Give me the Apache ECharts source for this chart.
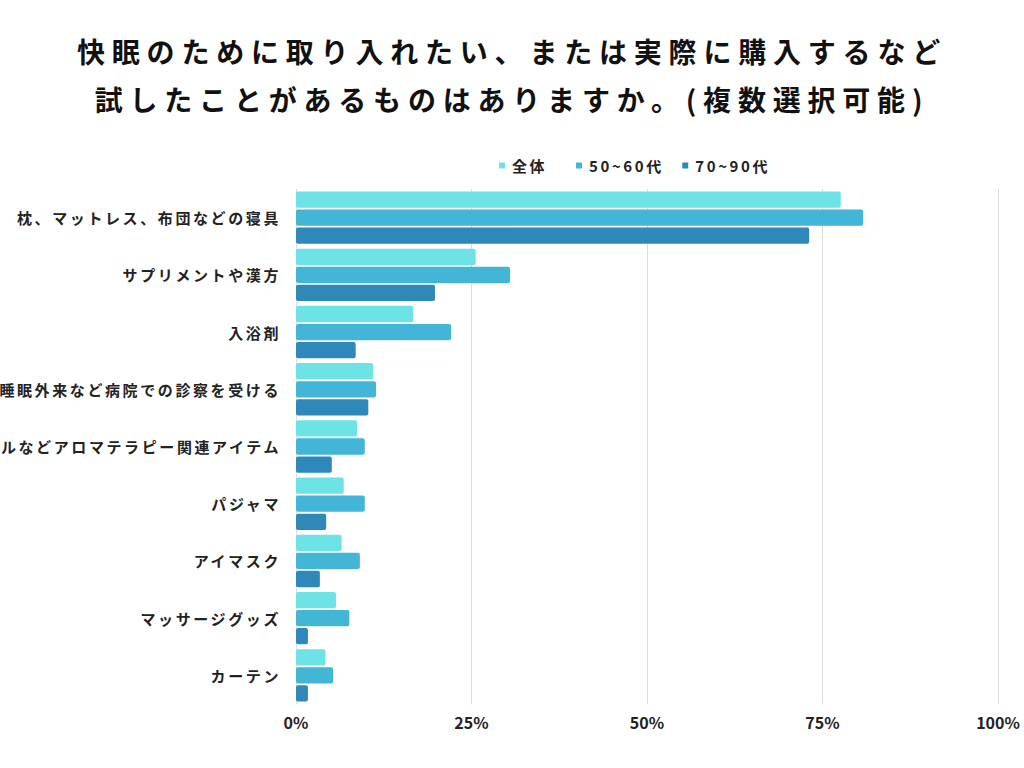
<!DOCTYPE html>
<html lang="ja">
<head>
<meta charset="utf-8">
<title>快眠のために取り入れたいもの</title>
<script src="https://cdn.jsdelivr.net/npm/echarts@6/dist/echarts.min.js"></script>
<style>
  html, body { margin: 0; padding: 0; background: #fff; }
  #chart { width: 1024px; height: 768px; }
  /* 文字間隔（SVGレンダラーのtextに適用） */
  #chart text[style*="28px"] { letter-spacing: 6.8px; }
  #chart text[style*="15px"] { letter-spacing: 2.6px; }
</style>
</head>
<body>
<div id="chart"></div>
<script>
// データ
const titleLines = [
  '快眠のために取り入れたい、または実際に購入するなど',
  '試したことがあるものはありますか。(複数選択可能)'
];
const categories = [
  '枕、マットレス、布団などの寝具',
  'サプリメントや漢方',
  '入浴剤',
  '睡眠外来など病院での診察を受ける',
  'アロマオイルなどアロマテラピー関連アイテム',
  'パジャマ',
  'アイマスク',
  'マッサージグッズ',
  'カーテン'
];
const seriesNames = ['全体', '50~60代', '70~90代'];
const allValues = [77.6, 25.6, 16.7, 11.0, 8.7, 6.8, 6.5, 5.7, 4.2];
const age5060Values = [80.8, 30.5, 22.1, 11.4, 9.8, 9.8, 9.1, 7.6, 5.3];
const age7090Values = [73.1, 19.8, 8.5, 10.3, 5.1, 4.3, 3.4, 1.7, 1.7];
const xTicks = [0, 25, 50, 75, 100];

const colors = ['#6ee3e6', '#43b5d7', '#2e88ba'];
const fontCJK = '"Noto Sans CJK JP", "Noto Sans", sans-serif';

const chart = echarts.init(document.getElementById('chart'), null, { renderer: 'svg' });

function barSeries(name, data, color) {
  return {
    name: name,
    type: 'bar',
    data: data,
    barGap: '11%',
    barCategoryGap: '8.4%',
    itemStyle: { color: color, borderRadius: 2 },
    emphasis: { disabled: true }
  };
}

chart.setOption({
  backgroundColor: '#fff',
  animation: false,
  color: colors,
  title: {
    text: titleLines.join('\n'),
    left: 'center',
    top: 22,
    textStyle: {
      fontFamily: fontCJK,
      fontSize: 28,
      fontWeight: 'bold',
      color: '#111',
      lineHeight: 48
    }
  },
  legend: {
    data: seriesNames,
    left: 494,
    top: 153,
    icon: 'rect',
    itemWidth: 6,
    itemHeight: 6,
    itemGap: 34,
    textStyle: {
      fontFamily: fontCJK,
      fontSize: 15,
      fontWeight: 'bold',
      color: '#222',
      padding: [0, 0, 0, 2]
    }
  },
  grid: {
    left: 296,
    right: 26,
    top: 189,
    bottom: 64,
    containLabel: false,
    outerBoundsMode: 'none'
  },
  xAxis: {
    type: 'value',
    min: xTicks[0],
    max: xTicks[xTicks.length - 1],
    interval: 25,
    axisLine: { show: false },
    axisTick: { show: false },
    splitLine: { lineStyle: { color: '#dcdcdc', width: 1 } },
    axisLabel: {
      formatter: '{value}%',
      margin: 10,
      fontFamily: fontCJK,
      fontSize: 16,
      fontWeight: 'bold',
      color: '#222'
    }
  },
  yAxis: {
    type: 'category',
    data: categories,
    inverse: true,
    axisLine: { show: false },
    axisTick: { show: false },
    axisLabel: {
      margin: 15,
      fontFamily: fontCJK,
      fontSize: 15,
      fontWeight: 'bold',
      color: '#222'
    }
  },
  series: [
    barSeries(seriesNames[0], allValues, colors[0]),
    barSeries(seriesNames[1], age5060Values, colors[1]),
    barSeries(seriesNames[2], age7090Values, colors[2])
  ]
});
</script>
</body>
</html>
